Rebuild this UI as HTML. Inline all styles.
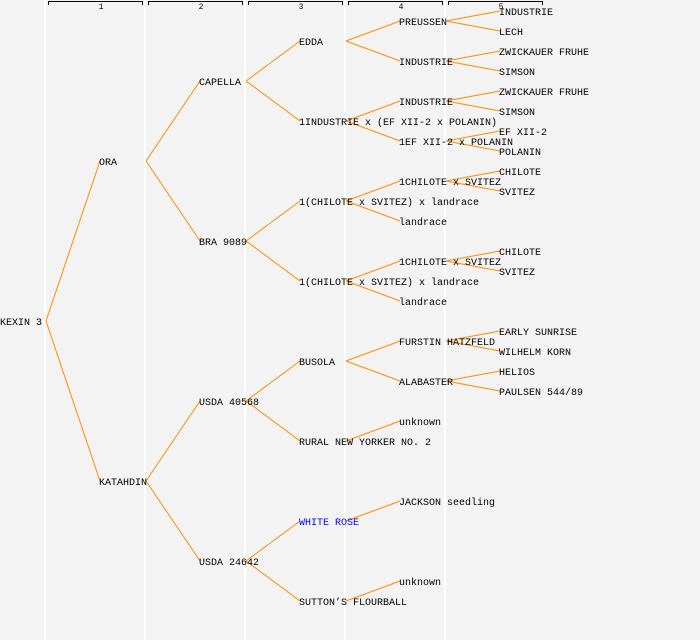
<!DOCTYPE html>
<html><head><style>
html,body{margin:0;padding:0;background:#f3f3f3;}
svg{display:block;}
text{font-family:"Liberation Mono",monospace;font-size:10px;fill:#000;}
</style></head><body>
<svg width="700" height="640" xmlns="http://www.w3.org/2000/svg">
<rect width="700" height="640" fill="#f3f3f3"/>
<g stroke="#fff" stroke-width="2">
<line x1="45" y1="0" x2="45" y2="640"/><line x1="145" y1="0" x2="145" y2="640"/><line x1="245" y1="0" x2="245" y2="640"/><line x1="345" y1="0" x2="345" y2="640"/><line x1="445" y1="0" x2="445" y2="640"/>
</g>
<g stroke="#000" fill="none" stroke-width="1">
<path d="M48.5,5V1.5H142.5V5"/><path d="M148.5,5V1.5H242.5V5"/><path d="M248.5,5V1.5H342.5V5"/><path d="M348.5,5V1.5H442.5V5"/><path d="M448.5,5V1.5H542.5V5"/>
</g>
<g style="font-size:8px" text-anchor="middle">
<text x="101" y="9" style="font-size:8px">1</text><text x="201" y="9" style="font-size:8px">2</text><text x="301" y="9" style="font-size:8px">3</text><text x="401" y="9" style="font-size:8px">4</text><text x="501" y="9" style="font-size:8px">5</text>
</g>
<g stroke="#ff8c00" stroke-width="1" fill="none">
<path d="M46,321L100,161M46,321L100,481"/>
<path d="M146,161L200,81M146,161L200,241M146,481L200,401M146,481L200,561"/>
<path d="M246,81L300,41M246,81L300,121M246,241L300,201M246,241L300,281M246,401L300,361M246,401L300,441M246,561L300,521M246,561L300,601"/>
<path d="M346,41L400,21M346,41L400,61M346,121L400,101M346,121L400,141M346,201L400,181M346,201L400,221M346,281L400,261M346,281L400,301M346,361L400,341M346,361L400,381M346,441L400,421M346,521L400,501M346,601L400,581"/>
<path d="M446,21L500,11M446,21L500,31M446,61L500,51M446,61L500,71M446,101L500,91M446,101L500,111M446,141L500,131M446,141L500,151M446,181L500,171M446,181L500,191M446,261L500,251M446,261L500,271M446,341L500,331M446,341L500,351M446,381L500,371M446,381L500,391"/>
</g>
<g>
<text x="0" y="325">KEXIN 3</text>
<text x="99" y="165">ORA</text><text x="99" y="485">KATAHDIN</text>
<text x="199" y="85">CAPELLA</text><text x="199" y="245">BRA 9089</text><text x="199" y="405">USDA 40568</text><text x="199" y="565">USDA 24642</text>
<text x="299" y="45">EDDA</text><text x="299" y="125">1INDUSTRIE x (EF XII-2 x POLANIN)</text><text x="299" y="205">1(CHILOTE x SVITEZ) x landrace</text><text x="299" y="285">1(CHILOTE x SVITEZ) x landrace</text><text x="299" y="365">BUSOLA</text><text x="299" y="445">RURAL NEW YORKER NO. 2</text><text x="299" y="525" style="fill:#0000ff">WHITE ROSE</text><text x="299" y="605">SUTTON’S FLOURBALL</text>
<text x="399" y="25">PREUSSEN</text><text x="399" y="65">INDUSTRIE</text><text x="399" y="105">INDUSTRIE</text><text x="399" y="145">1EF XII-2 x POLANIN</text><text x="399" y="185">1CHILOTE x SVITEZ</text><text x="399" y="225">landrace</text><text x="399" y="265">1CHILOTE x SVITEZ</text><text x="399" y="305">landrace</text><text x="399" y="345">FURSTIN HATZFELD</text><text x="399" y="385">ALABASTER</text><text x="399" y="425">unknown</text><text x="399" y="505">JACKSON seedling</text><text x="399" y="585">unknown</text>
<text x="499" y="15">INDUSTRIE</text><text x="499" y="35">LECH</text><text x="499" y="55">ZWICKAUER FRUHE</text><text x="499" y="75">SIMSON</text><text x="499" y="95">ZWICKAUER FRUHE</text><text x="499" y="115">SIMSON</text><text x="499" y="135">EF XII-2</text><text x="499" y="155">POLANIN</text><text x="499" y="175">CHILOTE</text><text x="499" y="195">SVITEZ</text><text x="499" y="255">CHILOTE</text><text x="499" y="275">SVITEZ</text><text x="499" y="335">EARLY SUNRISE</text><text x="499" y="355">WILHELM KORN</text><text x="499" y="375">HELIOS</text><text x="499" y="395">PAULSEN 544/89</text>
</g>
</svg>
</body></html>
